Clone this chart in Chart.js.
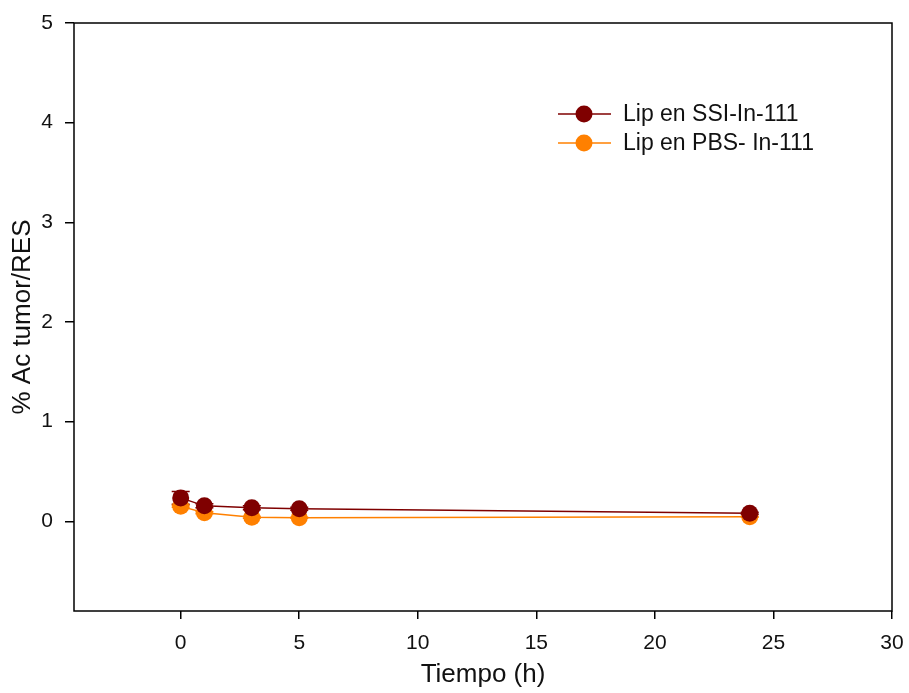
<!DOCTYPE html>
<html>
<head>
<meta charset="utf-8">
<script src="https://cdn.jsdelivr.net/npm/chart.js@4"></script>
<style>
  html, body { margin: 0; padding: 0; background: #fff; }
  #wrap { width: 909px; height: 693px; }
</style>
</head>
<body>
<div id="wrap"><canvas id="chart" width="909" height="693"></canvas></div>
<script>
// time points (h)
const horas = [0, 1, 3, 5, 24];

// % activity tumor / RES
const ssiValues = [0.235, 0.155, 0.135, 0.125, 0.08];
const ssiErr    = [0.065, 0.02, 0.02, 0.015, 0.01];
const pbsValues = [0.15, 0.085, 0.04, 0.035, 0.045];
const pbsErr    = [0.01, 0.01, 0.01, 0.005, 0.005];

const xTicks = [0, 5, 10, 15, 20, 25, 30];
const yTicks = [0, 1, 2, 3, 4, 5];

const labels = ['Lip en SSI-In-111', 'Lip en PBS- In-111'];
const colors = ['#7f0000', '#ff8000'];

const FONT = 'Liberation Sans, Arial, sans-serif';

// ── error bars + frame + legend ──
const extras = {
  id: 'extras',
  beforeDatasetsDraw(chart) {
    const { ctx } = chart;
    const xs = chart.scales.x, ys = chart.scales.y;
    [ssiErr, pbsErr].forEach((errs, di) => {
      const vals = di === 0 ? ssiValues : pbsValues;
      ctx.save();
      ctx.strokeStyle = colors[di];
      ctx.lineWidth = 1.5;
      horas.forEach((h, i) => {
        const px = xs.getPixelForValue(h);
        const top = ys.getPixelForValue(vals[i] + errs[i]);
        const bot = ys.getPixelForValue(vals[i] - errs[i]);
        ctx.beginPath();
        ctx.moveTo(px, top); ctx.lineTo(px, bot);
        ctx.moveTo(px - 9, top); ctx.lineTo(px + 9, top);
        ctx.moveTo(px - 9, bot); ctx.lineTo(px + 9, bot);
        ctx.stroke();
      });
      ctx.restore();
    });
  },
  afterDraw(chart) {
    const { ctx, chartArea: a } = chart;
    ctx.save();
    ctx.strokeStyle = '#000';
    ctx.lineWidth = 1.5;
    ctx.strokeRect(a.left, a.top, a.right - a.left, a.bottom - a.top);

    // legend
    ctx.font = '23px ' + FONT;
    ctx.textBaseline = 'middle';
    labels.forEach((txt, i) => {
      const y = 114 + i * 29;
      ctx.strokeStyle = colors[i];
      ctx.lineWidth = 1.5;
      ctx.beginPath();
      ctx.moveTo(558, y); ctx.lineTo(611, y);
      ctx.stroke();
      ctx.fillStyle = colors[i];
      ctx.beginPath();
      ctx.arc(584, y, 8.5, 0, Math.PI * 2);
      ctx.fill();
      ctx.fillStyle = '#111';
      ctx.fillText(txt, 623, y + 1);
    });
    ctx.restore();
  }
};

const keepTicks = list => scale => {
  scale.ticks = list.map(v => ({ value: v }));
};

new Chart(document.getElementById('chart'), {
  type: 'line',
  data: {
    datasets: [
      {
        label: labels[0],
        data: horas.map((h, i) => ({ x: h, y: ssiValues[i] })),
        borderColor: colors[0],
        backgroundColor: colors[0],
        borderWidth: 1.5,
        pointRadius: 8.5,
        pointBorderWidth: 0,
        tension: 0
      },
      {
        label: labels[1],
        data: horas.map((h, i) => ({ x: h, y: pbsValues[i] })),
        borderColor: colors[1],
        backgroundColor: colors[1],
        borderWidth: 1.5,
        pointRadius: 8.5,
        pointBorderWidth: 0,
        tension: 0
      }
    ]
  },
  options: {
    responsive: false,
    animation: false,
    layout: { padding: { top: 23, right: 17, left: 0, bottom: 0 } },
    plugins: { legend: { display: false }, tooltip: { enabled: false } },
    scales: {
      x: {
        type: 'linear',
        min: -4.5,
        max: 30,
        afterBuildTicks: keepTicks(xTicks),
        afterFit(scale) {
          scale.height = 82;
          scale.paddingLeft = 0;
          scale.paddingRight = 0;
        },
        grid: { drawOnChartArea: false, tickLength: 8, color: '#000', lineWidth: 1.5 },
        border: { display: false },
        ticks: { color: '#111', font: { family: FONT, size: 21 }, padding: 12, maxRotation: 0 },
        title: { display: true, text: 'Tiempo (h)', color: '#111', font: { family: FONT, size: 26 }, padding: { top: 4, bottom: 3 } }
      },
      y: {
        min: -0.9,
        max: 5,
        afterBuildTicks: keepTicks(yTicks),
        afterFit(scale) {
          scale.width = 74;
          scale.paddingTop = 0;
          scale.paddingBottom = 0;
        },
        grid: { drawOnChartArea: false, tickLength: 9, color: '#000', lineWidth: 1.5 },
        border: { display: false },
        ticks: { color: '#111', font: { family: FONT, size: 21 }, padding: 12 },
        title: { display: true, text: '% Ac tumor/RES', color: '#111', font: { family: FONT, size: 26 }, padding: { top: 7, bottom: 4 } }
      }
    }
  },
  plugins: [extras]
});
</script>
</body>
</html>
